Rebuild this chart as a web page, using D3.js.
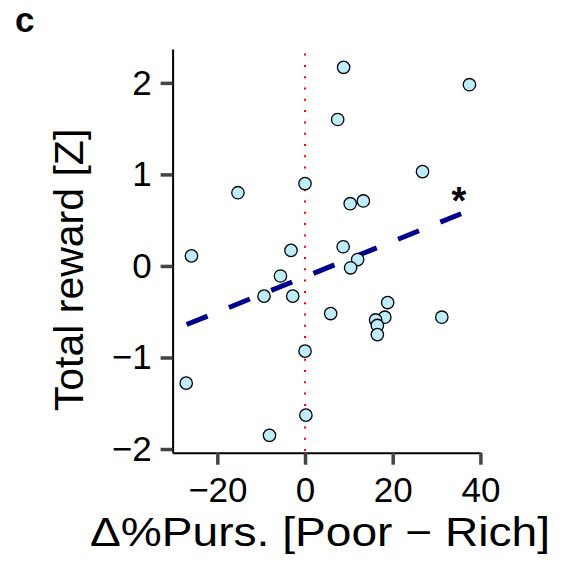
<!DOCTYPE html>
<html>
<head>
<meta charset="utf-8">
<script src="https://cdn.jsdelivr.net/npm/d3@7"></script>
<style>
html,body{margin:0;padding:0;background:#fff;}
svg{display:block;font-family:"Liberation Sans",Arial,Helvetica,sans-serif;}
</style>
</head>
<body>
<svg id="chart" width="571" height="567"></svg>
<script>
// ---- data ----
const deltaPurs = [8.8, 37.5, 7.45, 26.8, -15.3, 0, 10.3, 13.3, -25.9, -3.2, 8.7, 12.0, 10.4, -5.6, -9.35, -2.8, 5.85, 18.85, 18.2, 16.1, 16.5, 16.5, 31.2, 0, -27.1, 0.2, -8.1];
const totalReward = [2.17, 1.98, 1.60, 1.03, 0.80, 0.90, 0.68, 0.71, 0.11, 0.17, 0.21, 0.07, -0.02, -0.11, -0.33, -0.33, -0.52, -0.40, -0.56, -0.59, -0.65, -0.75, -0.56, -0.93, -1.28, -1.63, -1.85];
const fitX = [-27.0, 35.6];
const fitY = [-0.64, 0.57];
const vlineX = [0, 0];
const vlineY = [2.32, -2.04];
const xTicks = [-20, 0, 20, 40];
const yTicks = [-2, -1, 0, 1, 2];
const xDomain = [-30.2, 40];
const yDomain = [-2.04, 2.37];
const panelLabel = "c";
const xTitle = "Δ%Purs. [Poor − Rich]";
const yTitle = "Total reward [Z]";
const sigMark = "*";
const sigPos = [35.1, 0.565];

// ---- drawing ----
const svg = d3.select("#chart");
const x = d3.scaleLinear().domain(xDomain).range([172.6, 480.4]);
const y = d3.scaleLinear().domain(yDomain).range([452.7, 49]);

const fmt = d => d < 0 ? "\u2212" + Math.abs(d) : String(d);

const xAxis = svg.append("g").attr("transform", `translate(0,${y(yDomain[0])})`)
  .call(d3.axisBottom(x).tickValues(xTicks).tickFormat(fmt).tickSize(12).tickSizeOuter(0).tickPadding(12));
const yAxis = svg.append("g").attr("transform", `translate(${x(xDomain[0])},0)`)
  .call(d3.axisLeft(y).tickValues(yTicks).tickFormat(fmt).tickSize(12).tickSizeOuter(0).tickPadding(9));

[xAxis, yAxis].forEach(g => {
  g.select(".domain").attr("stroke", "#000").attr("stroke-width", 2);
  g.selectAll(".tick line").attr("stroke", "#444").attr("stroke-width", 3.5);
  g.selectAll(".tick text").attr("fill", "#000").style("font-size", "35px")
    .style("font-family", '"Liberation Sans",Arial,Helvetica,sans-serif');
});

// dotted vertical line at zero
svg.append("line")
  .attr("x1", x(vlineX[0])).attr("x2", x(vlineX[1]))
  .attr("y1", y(vlineY[0])).attr("y2", y(vlineY[1]))
  .attr("stroke", "#ff0000").attr("stroke-width", 2)
  .attr("stroke-dasharray", "2,9.3");

// regression line
svg.append("line")
  .attr("x1", x(fitX[0])).attr("y1", y(fitY[0]))
  .attr("x2", x(fitX[1])).attr("y2", y(fitY[1]))
  .attr("stroke", "#00008b").attr("stroke-width", 5)
  .attr("stroke-dasharray", "22.6,23");

// points
svg.append("g").selectAll("circle")
  .data(deltaPurs.map((d, i) => [d, totalReward[i]]))
  .join("circle")
  .attr("cx", d => x(d[0])).attr("cy", d => y(d[1]))
  .attr("r", 6.2)
  .attr("fill", "#bfecf9").attr("stroke", "#000").attr("stroke-width", 1.3);

// significance mark
svg.append("text").attr("x", x(sigPos[0])).attr("y", y(sigPos[1]))
  .attr("text-anchor", "middle").style("font-size", "38px").style("font-weight", "bold").text(sigMark);

// titles
svg.append("text").attr("x", 320).attr("y", 546)
  .attr("text-anchor", "middle").style("font-size", "40px")
  .attr("textLength", 460).attr("lengthAdjust", "spacingAndGlyphs")
  .text(xTitle);
svg.append("text").attr("transform", "translate(83,270) rotate(-90)")
  .attr("text-anchor", "middle").style("font-size", "41px")
  .text(yTitle);

svg.append("text").attr("x", 15).attr("y", 32)
  .style("font-size", "35px").style("font-weight", "bold").text(panelLabel);
</script>
</body>
</html>
